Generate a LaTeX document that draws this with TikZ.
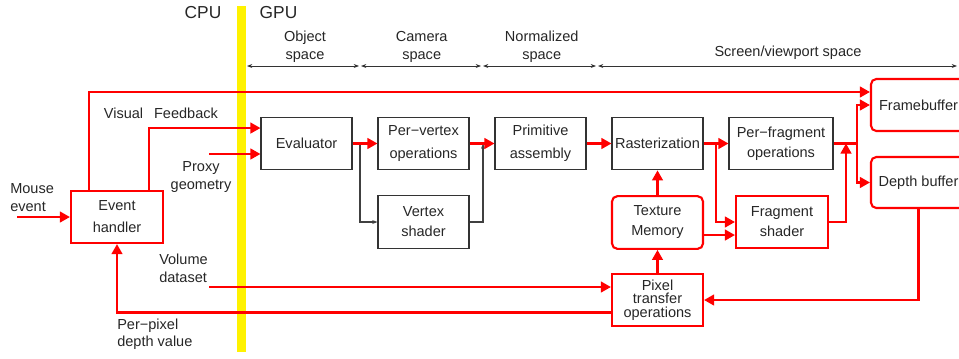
\documentclass[tikz,border=0pt]{standalone}
\usepackage{fontspec}
\setmainfont{Liberation Sans}
\usetikzlibrary{arrows.meta}
\begin{document}
\begin{tikzpicture}[x=0.75pt,y=-0.75pt,
  every node/.style={text=black!85, inner sep=0pt},
  lbl/.style={font=\fontsize{10.9}{13.5}\selectfont, align=center},
  lbll/.style={font=\fontsize{10.9}{13.5}\selectfont, align=left, anchor=west},
  big/.style={font=\fontsize{13}{15}\selectfont},
  bbox/.style={draw=black!80, line width=0.8pt, minimum width=68.25pt, minimum height=39.5pt, align=center, font=\fontsize{10.9}{15}\selectfont},
  rbox/.style={bbox, draw=red, line width=1.6pt},
  rrbox/.style={rbox, rounded corners=4pt},
  rl/.style={draw=red, line width=1.6pt},
  ra/.style={rl, -{Triangle[length=7.5pt,width=8pt]}},
  gl/.style={draw=black!75, line width=0.8pt},
  ga/.style={gl, -{Stealth[length=4pt,width=3pt]}},
  dim/.style={draw=black!80, line width=0.6pt, {Stealth[length=4pt,width=3pt]}-{Stealth[length=4pt,width=3pt]}},
]
\clip (0,0) rectangle (959,358);
\fill[yellow] (237,6) rectangle (246,352);

% headings
\node[big] (cpu) at (203,13) {CPU};
\node[big] (gpu) at (278.5,13) {GPU};
\node[lbl] (os) at (305,47) {Object\\space};
\node[lbl] (cs) at (421.7,47) {Camera\\space};
\node[lbl] (ns) at (541.7,47) {Normalized\\space};
\node[lbl] (ss) at (788,53) {Screen/viewport space};

\coordinate (d0) at (247,66);
\coordinate (d1a) at (359,66);
\coordinate (d1b) at (361,66);
\coordinate (d2a) at (481,66);
\coordinate (d2b) at (483,66);
\coordinate (d3a) at (596,66);
\coordinate (d3b) at (598,66);
\coordinate (d4) at (957,66);
\draw[dim] (d0) -- (d1a);
\draw[dim] (d1b) -- (d2a);
\draw[dim] (d2b) -- (d3a);
\draw[dim] (d3b) -- (d4);

% labels
\node[lbl] (vis) at (123.5,113) {Visual};
\node[lbl] (fdb) at (186,113) {Feedback};
\node[lbl] (prx) at (201,177) {Proxy\\geometry};
\node[lbll] (mev) at (10,198) {Mouse\\event};
\node[lbll] (vds) at (159,268) {Volume\\dataset};
\node[lbll, font=\fontsize{10.9}{12.75}\selectfont] (ppd) at (117,334.5) {Per−pixel\\depth value};

% boxes
\node[bbox] (eval) at (306.5,143.5) {Evaluator};
\node[bbox, font=\fontsize{10.9}{17}\selectfont] (pv) at (423.5,143.5) {Per−vertex\\operations};
\node[bbox, font=\fontsize{10.9}{17}\selectfont] (pa) at (540.5,143.5) {Primitive\\assembly};
\node[bbox] (ras) at (657.5,143.5) {Rasterization};
\node[bbox, minimum width=78pt] (pf) at (781,143.5) {Per−fragment\\operations};
\node[bbox] (vs) at (423.5,222) {Vertex\\shader};
\node[rrbox] (tm) at (657.5,222.5) {Texture\\Memory};
\node[rbox, font=\fontsize{10.9}{10}\selectfont] (pt) at (657.5,300) {Pixel\\transfer\\operations};
\node[rbox, minimum width=69pt] (fs) at (782,222) {Fragment\\shader};
\node[rrbox, minimum width=71.25pt, minimum height=39pt] (fb) at (918.5,105) {Framebuffer};
\node[rrbox, minimum width=71.25pt, minimum height=38.25pt] (db) at (918.5,182.5) {Depth buffer};
\node[rbox, minimum width=69pt, minimum height=39pt, font=\fontsize{10.9}{16.5}\selectfont] (evh) at (117,217) {Event\\handler};

% gray connectors
\coordinate (brA) at (360,143.5);
\coordinate (brB) at (483,143.5);
\draw[ga] (brA) |- (vs.west);
\draw[ga] (vs.east) -| (brB);

% red connectors
\draw[ra] (eval) -- (pv);
\draw[ra] (pv) -- (pa);
\draw[ra] (pa) -- (ras);
\draw[ra] (ras) -- (pf);
\coordinate (brC) at (716,143.5);
\draw[ra] (brC) |- (fs.west);
\coordinate (tmo) at ([yshift=-9.4pt]tm.east);
\draw[ra] (tmo) -- (tmo -| fs.west);
\draw[ra] (tm) -- (ras);
\draw[ra] (pt) -- (tm);
\coordinate (brD) at (846,143.5);
\draw[ra] (fs.east) -| (brD);
\coordinate (brE) at (857,143.5);
\draw[rl] (pf.east) -- (brE);
\draw[ra] (brE) |- (fb.west);
\draw[ra] (brE) |- (db.west);
\draw[ra] (db.south) |- (pt.east);
\coordinate (vol) at (209,287);
\draw[ra] (vol) -- (vol -| pt.west);
\coordinate (ppx) at ([yshift=-9.4pt]pt.west);
\draw[ra] (ppx) -| (evh.south);
\coordinate (ms) at (17,217);
\draw[ra] (ms) -- (evh.west);
\coordinate (vf) at ([xshift=-21pt]evh.north);
\coordinate (fbin) at ([yshift=9.75pt]fb.west);
\draw[ra] (vf) |- (fbin);
\coordinate (ev2) at ([xshift=24pt]evh.north);
\coordinate (evin) at ([yshift=11.6pt]eval.west);
\draw[ra] (ev2) |- (evin);
\coordinate (px) at (209,154);
\draw[ra] (px) -- (px -| eval.west);
\end{tikzpicture}
\end{document}
